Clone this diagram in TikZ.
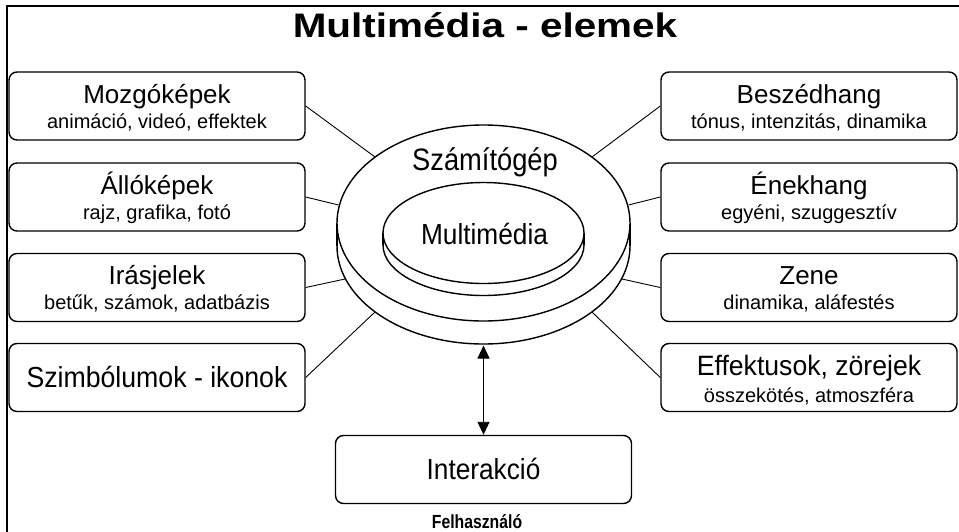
\documentclass[tikz,border=0pt]{standalone}
\usepackage{fontspec}
\setmainfont{Liberation Sans}
\usetikzlibrary{arrows.meta}
\begin{document}
\begin{tikzpicture}[x=1pt,y=-1pt,
  box/.style={draw, line width=1.4pt, rounded corners=8pt, minimum width=296pt, minimum height=68pt, inner sep=0pt},
  conn/.style={line width=0.9pt},
  cyl/.style={line width=1.4pt},
  ttl/.style={font=\fontsize{26}{30}\selectfont, anchor=base, inner sep=0pt},
  big/.style={font=\fontsize{29}{33}\selectfont, anchor=base, inner sep=0pt},
  sub/.style={font=\fontsize{20}{24}\selectfont, anchor=base, inner sep=0pt}]
\useasboundingbox (0,0) rectangle (959,531);
% frame
\draw[line width=1.4pt] (962,6) -- (7,6) -- (7,535);
% title
\node[anchor=base, inner sep=0pt, font=\fontsize{34}{38}\selectfont\bfseries] (title) at (485,37) {\scalebox{1.19}[1]{Multimédia - elemek}};
% cylinder outer
\draw[cyl, fill=white] (483.5,246) ellipse [x radius=146.5, y radius=98];
\fill[white] (337,223) rectangle (630,246);
\draw[cyl] (337,223) -- (337,246) (630,223) -- (630,246);
\draw[cyl, fill=white] (483.5,223) ellipse [x radius=146.5, y radius=98];
% cylinder inner
\draw[cyl, fill=white] (483.5,245) ellipse [x radius=100.5, y radius=50.5];
\fill[white] (383,233) rectangle (584,245);
\draw[cyl] (383,233) -- (383,245) (584,233) -- (584,245);
\draw[cyl, fill=white] (483.5,233) ellipse [x radius=100.5, y radius=50.5];
\node[big] (szg) at (485,170) {\scalebox{0.88}[1]{\fontsize{31}{35}\selectfont Számítógép}};
\node[big] (mm) at (484.5,244) {\scalebox{0.905}[1]{Multimédia}};
% ellipse points
\coordinate (L1) at (375,157);
\coordinate (L2) at (338.5,205);
\coordinate (L3) at (345,279);
\coordinate (L4) at (375,312);
\coordinate (R1) at (592,157);
\coordinate (R2) at (628.5,205);
\coordinate (R3) at (622,279);
\coordinate (R4) at (592,312);
\coordinate (cb) at (483.5,345.5);
% left boxes
\node[box] (b1) at (157,106) {};
\node[box] (b2) at (157,197) {};
\node[box] (b3) at (157,287.5) {};
\node[box] (b4) at (157,377.5) {};
% right boxes
\node[box] (c1) at (809,106) {};
\node[box] (c2) at (809,197) {};
\node[box] (c3) at (809,287.5) {};
\node[box] (c4) at (809,377.5) {};
% bottom box
\node[box] (ia) at (483.5,469.5) {};
% texts
\node[ttl] (b1t) at (157,103) {Mozgóképek};
\node[sub] (b1s) at (157,128) {animáció, videó, effektek};
\node[ttl] (b2t) at (157,194) {Állóképek};
\node[sub] (b2s) at (157,219) {rajz, grafika, fotó};
\node[ttl] (b3t) at (157,284.5) {Irásjelek};
\node[sub] (b3s) at (157,309.5) {betűk, számok, adatbázis};
\node[big] (b4t) at (157,387) {\scalebox{0.92}[1]{Szimbólumok - ikonok}};
\node[ttl] (c1t) at (809,103) {Beszédhang};
\node[sub] (c1s) at (809,128) {tónus, intenzitás, dinamika};
\node[ttl] (c2t) at (809,194) {Énekhang};
\node[sub] (c2s) at (809,219) {egyéni, szuggesztív};
\node[ttl] (c3t) at (809,284.5) {Zene};
\node[sub] (c3s) at (809,309.5) {dinamika, aláfestés};
\node[ttl] (c4t) at (809,375) {\scalebox{0.95}[1]{\fontsize{28}{32}\selectfont Effektusok, zörejek}};
\node[sub] (c4s) at (809,402) {összekötés, atmoszféra};
\node[big] (iat) at (483.5,479) {\scalebox{0.905}[1]{Interakció}};
\node[anchor=base, inner sep=0pt, font=\fontsize{19}{22}\selectfont\bfseries] (fh) at (477,528.5) {\scalebox{0.83}[1]{Felhasználó}};
% connectors
\draw[conn] (b1.east) -- (L1);
\draw[conn] (b2.east) -- (L2);
\draw[conn] (b3.east) -- (L3);
\draw[conn] (b4.east) -- (L4);
\draw[conn] (c1.west) -- (R1);
\draw[conn] (c2.west) -- (R2);
\draw[conn] (c3.west) -- (R3);
\draw[conn] (c4.west) -- (R4);
\draw[conn, {Triangle[width=12pt,length=13pt]}-{Triangle[width=12pt,length=13pt]}] (cb) -- (ia.north);
\end{tikzpicture}
\end{document}
